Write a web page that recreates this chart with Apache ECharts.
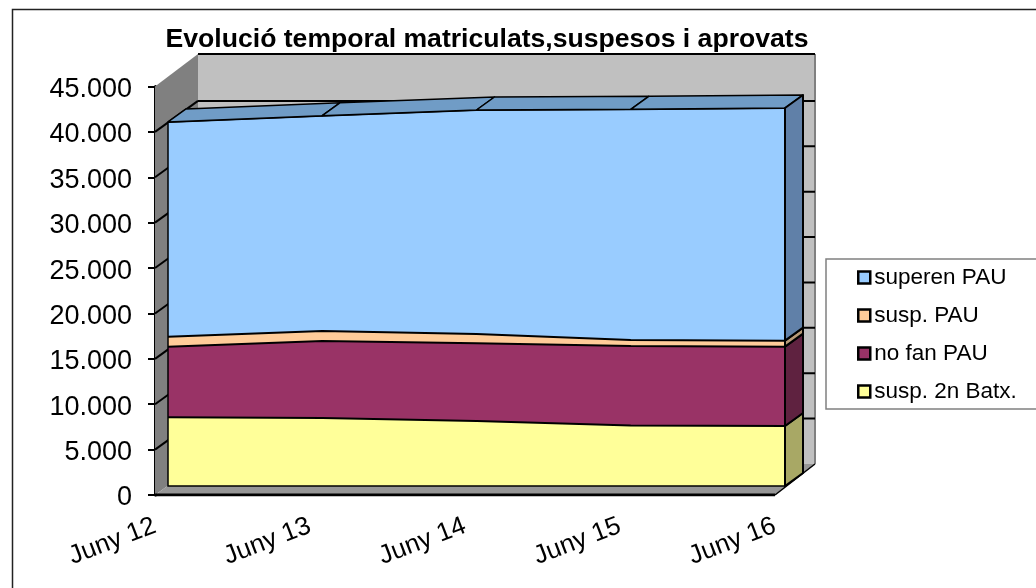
<!DOCTYPE html>
<html><head><meta charset="utf-8">
<script src="https://cdn.jsdelivr.net/npm/echarts@6/dist/echarts.min.js"></script>
<style>html,body{margin:0;padding:0;background:#fff;overflow:hidden}#c{width:1036px;height:588px}</style>
</head><body><div id="c"></div>
<script>
const categories = ['Juny 12','Juny 13','Juny 14','Juny 15','Juny 16'];
const suspBatx = [7570, 7490, 7160, 6670, 6610];
const noFanPau = [7780, 8480, 8560, 8750, 8740];
const suspPau  = [1100, 1100, 1025, 660, 660];
const superenPau = [23650, 23720, 24675, 25410, 25630];
const tickValues = [0,5000,10000,15000,20000,25000,30000,35000,40000,45000];

const names = ['susp. 2n Batx.','no fan PAU','susp. PAU','superen PAU'];
const values = [suspBatx, noFanPau, suspPau, superenPau];
const faceColors = ['#FFFF99','#993366','#FFCC99','#99CCFF'];
const sideColors = ['#A8A865','#5F2240','#B89A78','#6080A8'];
const topColor = '#709CC6';
const depth = [18,-13];
const FONT = '"Liberation Sans", Arial, sans-serif';

const cum = values.map((_,s)=>categories.map((_,i)=>values.slice(0,s+1).reduce((a,v)=>a+v[i],0)));
const totals = cum[3];

function wallItem(params, api){
  const o = api.coord([0,0]), r = api.coord([4,0]), t = api.coord([0,45000]), tr = api.coord([4,45000]);
  const dxL = 43, dxR = 40, dy = -31, topExtra = -1.5;
  const backL = [o[0]+dxL, o[1]+dy], backR = [r[0]+dxR, r[1]+dy];
  const topL = [t[0]+dxL, t[1]+dy+topExtra], topR = [tr[0]+dxR, tr[1]+dy+topExtra];
  const kids = [
    {type:'polygon',shape:{points:[backL,backR,topR,topL]},style:{fill:'#C0C0C0'}},
    {type:'polygon',shape:{points:[o,backL,topL,t]},style:{fill:'#808080'}},
    {type:'polygon',shape:{points:[o,r,backR,backL]},style:{fill:'#969696'}},
    {type:'line',shape:{x1:topR[0],y1:topR[1],x2:backR[0],y2:backR[1]},style:{stroke:'#808080',lineWidth:2}},
    {type:'line',shape:{x1:topL[0],y1:topL[1],x2:topR[0],y2:topR[1]},style:{stroke:'#000',lineWidth:2}},
  ];
  tickValues.forEach(v=>{
    if(v===0||v===45000) return;
    const p = api.coord([0,v]);
    const pb = [p[0]+dxL,p[1]+dy], pr = [api.coord([4,v])[0]+dxR,p[1]+dy];
    kids.push({type:'line',shape:{x1:pb[0],y1:pb[1],x2:pr[0],y2:pr[1]},style:{stroke:'#000',lineWidth:2}});
    kids.push({type:'line',shape:{x1:p[0],y1:p[1],x2:pb[0],y2:pb[1]},style:{stroke:'#000',lineWidth:2}});
  });
  kids.push({type:'line',shape:{x1:r[0],y1:r[1],x2:backR[0],y2:backR[1]},style:{stroke:'#000',lineWidth:1.5}});
  return {type:'group',children:kids};
}
function topItem(params, api){
  const i = api.value(0);
  const a = api.coord([i, api.value(1)]), b = api.coord([i+1, api.value(2)]);
  return {type:'polygon',shape:{points:[a,b,[b[0]+depth[0],b[1]+depth[1]],[a[0]+depth[0],a[1]+depth[1]]]},
    style:{fill:topColor,stroke:'#000',lineWidth:1.5,lineJoin:'round'}};
}
function sideItem(params, api){
  const lo = api.coord([4, api.value(0)]), hi = api.coord([4, api.value(1)]);
  return {type:'polygon',shape:{points:[lo,hi,[hi[0]+depth[0],hi[1]+depth[1]],[lo[0]+depth[0],lo[1]+depth[1]]]},
    style:{fill:sideColors[params.dataIndex],stroke:'#000',lineWidth:2,lineJoin:'round'}};
}
function edgeItem(params, api){
  const a = api.coord([0,0]), b = api.coord([4,0]), c = api.coord([0,totals[0]]);
  return {type:'polyline',shape:{points:[c,a,b]},style:{fill:null,stroke:'#000',lineWidth:1.5}};
}

const areaSeries = names.map((n,s)=>({
  name:n,type:'line',stack:'t',xAxisIndex:1,yAxisIndex:1,data:values[s],z:3,
  showSymbol:false,symbol:'none',smooth:false,
  lineStyle:{color:'#000',width:2},
  itemStyle:{color:faceColors[s]},
  areaStyle:{color:faceColors[s],opacity:1},
}));

const option = {
  animation:false,
  backgroundColor:'#fff',
  textStyle:{fontFamily:FONT},
  title:{text:'Evolució temporal matriculats,suspesos i aprovats',left:482,top:21,textAlign:'center',
    textStyle:{fontFamily:FONT,fontSize:26.6,fontWeight:'bold',color:'#000'}},
  graphic:[{type:'rect',z:-1,silent:true,shape:{x:12.5,y:9.5,width:1100,height:700},style:{fill:'#fff',stroke:'#222',lineWidth:1.5}}],
  legend:{
    left:826,top:259,orient:'vertical',
    data:names.slice().reverse(),
    icon:'rect',itemWidth:12,itemHeight:12,itemGap:15,
    padding:[7,60,6,31],
    backgroundColor:'#fff',borderColor:'#808080',borderWidth:1.5,
    itemStyle:{borderColor:'#000',borderWidth:2.5},
    textStyle:{fontFamily:FONT,fontSize:22.5,color:'#000',padding:[0,0,0,-1]},
  },
  grid:[
    {left:155,top:86.5,width:620,height:408.5},
    {left:168,top:77.5,width:617,height:408.5},
  ],
  xAxis:[
    {type:'category',gridIndex:0,boundaryGap:false,data:categories,
      axisLine:{show:false},
      axisTick:{show:false},
      axisLabel:{rotate:21,fontSize:26,color:'#000',margin:30,fontFamily:FONT,interval:0}},
    {type:'category',gridIndex:1,boundaryGap:false,data:categories,show:false},
  ],
  yAxis:[
    {type:'value',gridIndex:0,min:0,max:45000,interval:5000,
      axisLine:{show:true,lineStyle:{color:'#000',width:3}},
      axisTick:{show:true,length:7,lineStyle:{color:'#000',width:2}},
      splitLine:{show:false},
      axisLabel:{fontSize:27,color:'#000',margin:23,fontFamily:FONT,
        formatter:v=>'{a|'+String(v).replace(/\B(?=(\d{3})+$)/g,'.')+'}',
        rich:{a:{fontSize:27,color:'#000',fontFamily:FONT,padding:[6,0,0,0]}}}},
    {type:'value',gridIndex:1,min:0,max:45000,interval:5000,show:false},
  ],
  series:[
    {type:'custom',name:'walls',xAxisIndex:0,yAxisIndex:0,z:1,silent:true,data:[[0,0]],renderItem:wallItem,clip:false},
    ...areaSeries,
    {type:'custom',name:'edge',xAxisIndex:1,yAxisIndex:1,z:4,silent:true,clip:false,data:[[0,0]],renderItem:edgeItem},
    {type:'custom',name:'tops',xAxisIndex:1,yAxisIndex:1,z:4,silent:true,clip:false,
      data:categories.slice(0,-1).map((_,i)=>[i,totals[i],totals[i+1]]),renderItem:topItem,encode:{x:0,y:1}},
    {type:'custom',name:'sides',xAxisIndex:1,yAxisIndex:1,z:4,silent:true,clip:false,
      data:names.map((_,s)=>[s?cum[s-1][4]:0,cum[s][4]]),renderItem:sideItem,encode:{y:[0,1]}},
    {type:'line',name:'floor',xAxisIndex:0,yAxisIndex:0,data:categories.map(()=>0),z:5,silent:true,symbol:'none',
      lineStyle:{color:'#000',width:3}},
  ],
};
echarts.init(document.getElementById('c'),null,{renderer:'canvas'}).setOption(option);
</script></body></html>
